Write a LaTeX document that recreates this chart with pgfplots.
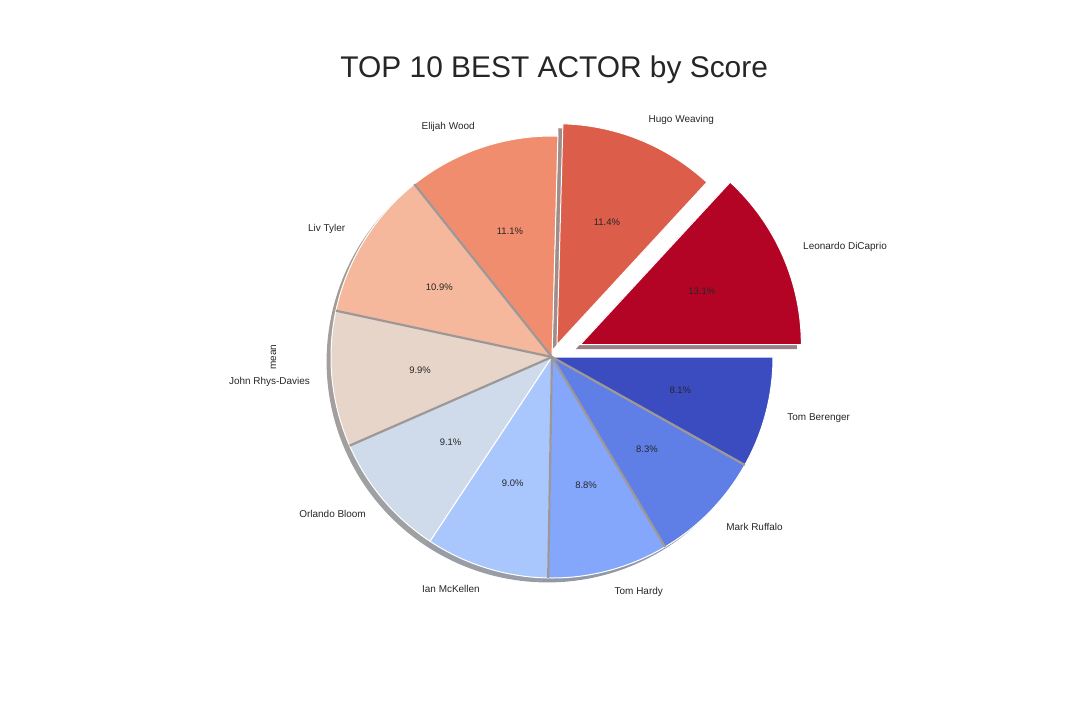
\documentclass[border=0pt]{standalone}
\usepackage{pgfplots}
\pgfplotsset{compat=1.18}
\usepackage{pgfplotstable}
\usepackage{fontspec}
\setmainfont{Liberation Sans}

% coolwarm_r, one colour per wedge
\definecolor{c0}{HTML}{B40426}
\definecolor{c1}{HTML}{DC5D4A}
\definecolor{c2}{HTML}{F08D6F}
\definecolor{c3}{HTML}{F6B89C}
\definecolor{c4}{HTML}{E8D5CA}
\definecolor{c5}{HTML}{CFDAEA}
\definecolor{c6}{HTML}{AAC7FD}
\definecolor{c7}{HTML}{84A7FC}
\definecolor{c8}{HTML}{5F7FE6}
\definecolor{c9}{HTML}{3B4CC0}
\definecolor{txt}{HTML}{262626}
\definecolor{seam}{HTML}{9D9898}

\pgfplotstableread[col sep=comma]{
name,value,explode
Leonardo DiCaprio,13.1,0.14
Hugo Weaving,11.4,0.06
Elijah Wood,11.1,0
Liv Tyler,10.9,0
John Rhys-Davies,9.9,0
Orlando Bloom,9.1,0
Ian McKellen,9.0,0
Tom Hardy,8.8,0
Mark Ruffalo,8.3,0
Tom Berenger,8.1,0
}\actors

\begin{document}
\begin{tikzpicture}
% total of all values
\def\total{0}
\pgfplotsforeachungrouped \k in {0,...,9}{%
  \pgfplotstablegetelem{\k}{value}\of\actors
  \pgfmathsetmacro\total{\total+\pgfplotsretval}%
}
% angles, centres and label positions of every wedge
\def\cum{0}
\pgfplotsforeachungrouped \k in {0,...,9}{%
  \pgfplotstablegetelem{\k}{value}\of\actors \let\val\pgfplotsretval
  \expandafter\xdef\csname pv\k\endcsname{\val}%
  \pgfplotstablegetelem{\k}{name}\of\actors
  \expandafter\xdef\csname nm\k\endcsname{\pgfplotsretval}%
  \pgfplotstablegetelem{\k}{explode}\of\actors \let\exv\pgfplotsretval
  \pgfmathsetmacro\angA{360*(\cum/\total)}%
  \pgfmathsetmacro\cum{\cum+\val}%
  \pgfmathsetmacro\angB{360*(\cum/\total)}%
  \pgfmathsetmacro\angM{(\angA+\angB)/2}%
  \pgfmathsetmacro\cx{\exv*cos(\angM)}%
  \pgfmathsetmacro\cy{\exv*sin(\angM)}%
  \expandafter\xdef\csname a\k\endcsname{\angA}%
  \expandafter\xdef\csname b\k\endcsname{\angB}%
  \expandafter\xdef\csname cx\k\endcsname{\cx}%
  \expandafter\xdef\csname cy\k\endcsname{\cy}%
  \pgfmathsetmacro\tmp{cos(\angA)}\expandafter\xdef\csname ex\k\endcsname{\tmp}%
  \pgfmathsetmacro\tmp{sin(\angA)}\expandafter\xdef\csname ey\k\endcsname{\tmp}%
  \pgfmathsetmacro\tmp{\cx-0.02}\expandafter\xdef\csname sx\k\endcsname{\tmp}%
  \pgfmathsetmacro\tmp{\cy-0.02}\expandafter\xdef\csname sy\k\endcsname{\tmp}%
  \pgfmathsetmacro\tmp{\cx+1.1*cos(\angM)}\expandafter\xdef\csname lx\k\endcsname{\tmp}%
  \pgfmathsetmacro\tmp{\cy+1.1*sin(\angM)}\expandafter\xdef\csname ly\k\endcsname{\tmp}%
  \pgfmathsetmacro\tmp{\cx+0.6*cos(\angM)}\expandafter\xdef\csname px\k\endcsname{\tmp}%
  \pgfmathsetmacro\tmp{\cy+0.6*sin(\angM)}\expandafter\xdef\csname py\k\endcsname{\tmp}%
  \pgfmathparse{cos(\angM)>0}%
  \ifdim\pgfmathresult pt>0.5pt
    \expandafter\xdef\csname anc\k\endcsname{west}%
  \else
    \expandafter\xdef\csname anc\k\endcsname{east}%
  \fi
}
\begin{axis}[
    hide axis,
    clip=false,
    x=221bp, y=221bp,
    xmin=-2.4977, xmax=2.3891,
    ymin=-1.6425, ymax=1.6154,
]
\path (rel axis cs:0,0) rectangle (rel axis cs:1,1);
% shadows first, below all wedges
\pgfplotsforeachungrouped \k in {0,...,9}{%
  \edef\cmd{\noexpand\addplot[draw=none, fill=black!70!c\k, fill opacity=0.5,
    domain=\csname a\k\endcsname:\csname b\k\endcsname, samples=60, variable=\noexpand\t]
    ({\csname sx\k\endcsname+cos(\noexpand\t)},{\csname sy\k\endcsname+sin(\noexpand\t)})
    -- (axis cs:\csname sx\k\endcsname,\csname sy\k\endcsname) -- cycle;}%
  \cmd
}
% wedges
\pgfplotsforeachungrouped \k in {0,...,9}{%
  \edef\cmd{\noexpand\addplot[draw=white, line width=1bp, fill=c\k,
    domain=\csname a\k\endcsname:\csname b\k\endcsname, samples=60, variable=\noexpand\t]
    ({\csname cx\k\endcsname+cos(\noexpand\t)},{\csname cy\k\endcsname+sin(\noexpand\t)})
    -- (axis cs:\csname cx\k\endcsname,\csname cy\k\endcsname) -- cycle;}%
  \cmd
}
% grey seams where a neighbour's shadow shows between wedges
\pgfplotsforeachungrouped \k in {3,4,5,7,8,9}{%
  \edef\cmd{\noexpand\addplot[draw=seam, line width=2.2bp, line cap=butt]
    coordinates {(0,0) (\csname ex\k\endcsname,\csname ey\k\endcsname)};}%
  \cmd
}
% labels
\pgfplotsforeachungrouped \k in {0,...,9}{%
  \edef\cmd{\noexpand\node[anchor=\csname anc\k\endcsname, text=txt, inner sep=0pt,
      font=\noexpand\fontsize{10}{12}\noexpand\selectfont]
      at (axis cs:\csname lx\k\endcsname,\csname ly\k\endcsname) {\csname nm\k\endcsname};
    \noexpand\node[text=txt, inner sep=0pt, font=\noexpand\fontsize{9.5}{11}\noexpand\selectfont]
      at (axis cs:\csname px\k\endcsname,\csname py\k\endcsname) {\csname pv\k\endcsname\noexpand\%};}%
  \cmd
}
\node[text=txt, rotate=90, inner sep=0pt, font=\fontsize{10}{12}\selectfont] at (axis cs:-1.26,0) {mean};
\node[text=txt, inner sep=0pt, font=\fontsize{30}{36}\selectfont] at (axis cs:0.01,1.2986) {TOP 10 BEST ACTOR by Score};
\end{axis}
\end{tikzpicture}
\end{document}
